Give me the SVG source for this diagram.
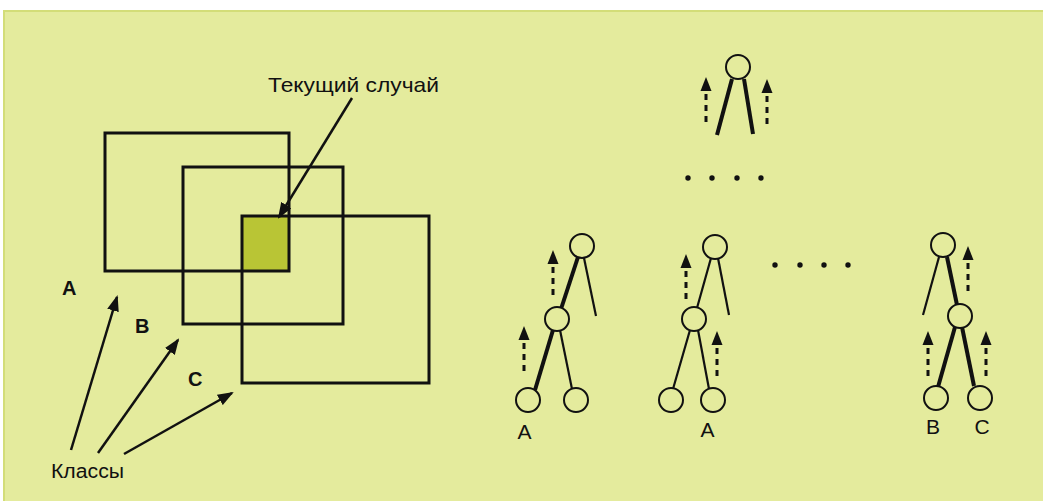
<svg xmlns="http://www.w3.org/2000/svg" xmlns:xlink="http://www.w3.org/1999/xlink" width="1043" height="501" viewBox="0 0 1043 501">
<style>
.bg{fill:#e4eb9d;stroke:#d3dd78;stroke-width:2}
.box{fill:none;stroke:#111;stroke-width:3}
.thin{stroke:#111;stroke-width:2.2;fill:none}
.thick{stroke:#111;stroke-width:4;fill:none;stroke-linecap:butt}
.nd{fill:#e4eb9d;stroke:#111;stroke-width:2}
.arr{stroke:#111;stroke-width:2.5;fill:none}
.t{font-family:"Liberation Sans Narrow","Liberation Sans",Arial,sans-serif;fill:#111}
.dot{fill:#111}
</style>
<defs>
<marker id="ah" markerUnits="userSpaceOnUse" markerWidth="16" markerHeight="12" refX="14" refY="6" orient="auto">
<path d="M0,0 L16,6 L0,12 Z" fill="#111"/>
</marker>
<g id="da">
<polygon points="0,0 5.5,14 -5.5,14" fill="#111"/>
<line x1="0" y1="17" x2="0" y2="46" stroke="#111" stroke-width="3" stroke-dasharray="6,5"/>
</g>
</defs>
<rect x="0" y="0" width="1043" height="501" fill="#ffffff"/>
<rect class="bg" x="4" y="11" width="1045" height="495"/>

<g id="venn">
<rect x="242" y="216" width="47" height="55" fill="#b9c535"/>
<rect class="box" x="105" y="133" width="184" height="138"/>
<rect class="box" x="183" y="167" width="160" height="157"/>
<rect class="box" x="242" y="216" width="187" height="167"/>
</g>

<g id="labels-left">
<text class="t" x="268" y="92" font-size="21" textLength="171" lengthAdjust="spacingAndGlyphs">Текущий случай</text>
<text class="t" x="62" y="295" font-size="20" font-weight="bold">A</text>
<text class="t" x="135" y="333" font-size="20" font-weight="bold">B</text>
<text class="t" x="188" y="386" font-size="20" font-weight="bold">C</text>
<text class="t" x="51" y="478" font-size="20" textLength="73" lengthAdjust="spacingAndGlyphs">Классы</text>
</g>

<g id="connectors">
<line class="arr" x1="352" y1="98" x2="279" y2="217" marker-end="url(#ah)"/>
<line class="arr" x1="71" y1="450" x2="117" y2="297" marker-end="url(#ah)"/>
<line class="arr" x1="98" y1="453" x2="178" y2="340" marker-end="url(#ah)"/>
<line class="arr" x1="124" y1="454" x2="232" y2="393" marker-end="url(#ah)"/>
</g>

<g id="tree-top">
<line class="thick" x1="732" y1="79" x2="717" y2="135" stroke-width="3.5"/>
<line class="thick" x1="744" y1="79" x2="753" y2="134" stroke-width="3.5"/>
<circle class="nd" cx="738" cy="67" r="12"/>
<use xlink:href="#da" x="706" y="77"/>
<use xlink:href="#da" x="767" y="79"/>
<circle class="dot" cx="688" cy="178" r="2.7"/>
<circle class="dot" cx="712" cy="178" r="2.7"/>
<circle class="dot" cx="737" cy="178" r="2.7"/>
<circle class="dot" cx="761" cy="178" r="2.7"/>
</g>

<g id="dots-mid">
<circle class="dot" cx="775" cy="265" r="2.7"/>
<circle class="dot" cx="800" cy="265" r="2.7"/>
<circle class="dot" cx="824" cy="265" r="2.7"/>
<circle class="dot" cx="848" cy="265" r="2.7"/>
</g>

<g id="tree-left">
<line class="thick" x1="578" y1="257" x2="561" y2="309"/>
<line class="thin" x1="584" y1="258" x2="596" y2="316"/>
<line class="thick" x1="553" y1="330" x2="535" y2="390"/>
<line class="thin" x1="560" y1="330" x2="572" y2="389"/>
<circle class="nd" cx="582" cy="246" r="12"/>
<circle class="nd" cx="557" cy="319" r="12"/>
<circle class="nd" cx="528" cy="400" r="12"/>
<circle class="nd" cx="576" cy="400" r="12"/>
<use xlink:href="#da" x="553" y="250"/>
<use xlink:href="#da" x="524" y="326"/>
<text class="t" x="524.5" y="439" font-size="21" text-anchor="middle">A</text>
</g>

<g id="tree-mid">
<line class="thin" x1="711" y1="258" x2="697" y2="308"/>
<line class="thin" x1="718" y1="258" x2="729" y2="315"/>
<line class="thin" x1="690" y1="330" x2="673" y2="389"/>
<line class="thin" x1="698" y1="330" x2="709" y2="389"/>
<circle class="nd" cx="715" cy="247" r="12"/>
<circle class="nd" cx="694" cy="319" r="12"/>
<circle class="nd" cx="671" cy="400" r="12"/>
<circle class="nd" cx="713" cy="400" r="12"/>
<use xlink:href="#da" x="686" y="254"/>
<use xlink:href="#da" x="717" y="331"/>
<text class="t" x="707.5" y="437" font-size="21" text-anchor="middle">A</text>
</g>

<g id="tree-right">
<line class="thin" x1="939" y1="257" x2="923" y2="315"/>
<line class="thick" x1="947" y1="257" x2="957" y2="305"/>
<line class="thick" x1="955" y1="327" x2="938" y2="387"/>
<line class="thick" x1="962" y1="327" x2="974" y2="386"/>
<circle class="nd" cx="943" cy="245" r="12"/>
<circle class="nd" cx="960" cy="316" r="12"/>
<circle class="nd" cx="936" cy="398" r="12"/>
<circle class="nd" cx="980" cy="398" r="12"/>
<use xlink:href="#da" x="968" y="246"/>
<use xlink:href="#da" x="928" y="331"/>
<use xlink:href="#da" x="986" y="331"/>
<text class="t" x="933" y="434" font-size="21" text-anchor="middle">B</text>
<text class="t" x="982" y="434" font-size="21" text-anchor="middle">C</text>
</g>
</svg>
